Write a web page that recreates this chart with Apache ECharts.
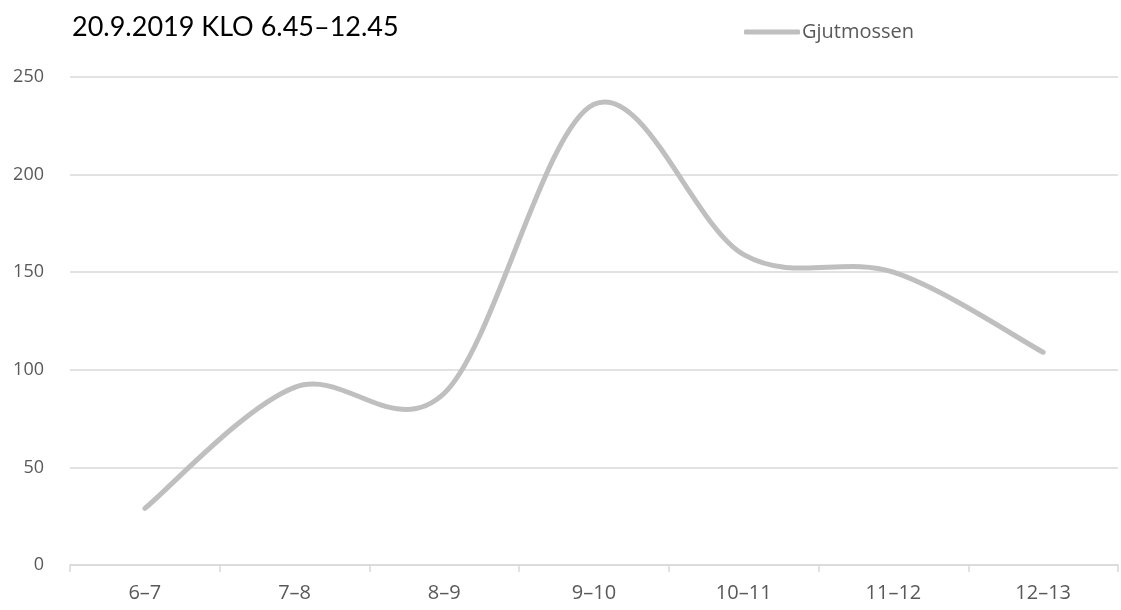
<!DOCTYPE html>
<html>
<head>
<meta charset="utf-8">
<script src="https://cdn.jsdelivr.net/npm/echarts@6/dist/echarts.min.js"></script>
<style>
html,body{margin:0;padding:0;background:#fff;}
#chart{width:1121px;height:610px;}
</style>
</head>
<body>
<div id="chart"></div>
<script>
var titleText = '20.9.2019 KLO 6.45–12.45';
var seriesName = 'Gjutmossen';
var categories = ['6–7', '7–8', '8–9', '9–10', '10–11', '11–12', '12–13'];
var values = [29, 91, 88, 236, 159, 150, 109];
var yTicks = [0, 50, 100, 150, 200, 250];

var LINE_COLOR = '#bfbfbf';

// Smooth (Catmull-Rom style, as in spreadsheet charts) path through the data,
// positioned via the chart's own coordinate system.
function renderCurve(params, api) {
  if (params.dataIndex !== 0) return null;
  var pts = values.map(function (v, i) { return api.coord([i, v]); });
  var n = pts.length;
  var path = 'M' + pts[0][0] + ' ' + pts[0][1];
  for (var i = 0; i < n - 1; i++) {
    var p0 = pts[Math.max(i - 1, 0)];
    var p1 = pts[i];
    var p2 = pts[i + 1];
    var p3 = pts[Math.min(i + 2, n - 1)];
    var c1x = p1[0] + (p2[0] - p0[0]) / 6;
    var c1y = p1[1] + (p2[1] - p0[1]) / 6;
    var c2x = p2[0] - (p3[0] - p1[0]) / 6;
    var c2y = p2[1] - (p3[1] - p1[1]) / 6;
    path += ' C' + c1x + ' ' + c1y + ' ' + c2x + ' ' + c2y + ' ' + p2[0] + ' ' + p2[1];
  }
  return {
    type: 'path',
    shape: {pathData: path},
    style: {fill: 'none', stroke: LINE_COLOR, lineWidth: 5, lineCap: 'round', lineJoin: 'round'}
  };
}

var chart = echarts.init(document.getElementById('chart'));
chart.setOption({
  animation: false,
  backgroundColor: '#ffffff',
  title: {
    text: titleText,
    left: 67,
    top: 9,
    textStyle: {fontFamily: 'Lato', fontWeight: 'normal', fontSize: 27, color: '#000000'}
  },
  legend: {
    data: [{name: seriesName, icon: 'roundRect', itemStyle: {color: LINE_COLOR}}],
    left: 739,
    top: 17,
    itemWidth: 56,
    itemHeight: 5,
    textStyle: {fontFamily: 'Open Sans', fontSize: 20, color: '#595959', padding: [0, 0, 0, -3]}
  },
  grid: {left: 70, right: 3, top: 77, bottom: 45, containLabel: false},
  xAxis: {
    type: 'category',
    data: categories,
    boundaryGap: true,
    axisLine: {lineStyle: {color: '#d9d9d9', width: 1.5}},
    axisTick: {show: true, length: 7, lineStyle: {color: '#d9d9d9', width: 1.5}},
    axisLabel: {fontFamily: 'Open Sans', fontSize: 20, color: '#595959', margin: 18}
  },
  yAxis: {
    type: 'value',
    min: yTicks[0],
    max: yTicks[yTicks.length - 1],
    interval: 50,
    axisLine: {show: false},
    axisTick: {show: false},
    splitLine: {lineStyle: {color: '#d9d9d9', width: 1.5}},
    axisLabel: {fontFamily: 'Open Sans', fontSize: 18, color: '#595959', margin: 26}
  },
  series: [{
    name: seriesName,
    type: 'custom',
    data: values.map(function (v, i) { return [i, v]; }),
    encode: {x: 0, y: 1},
    itemStyle: {color: LINE_COLOR},
    renderItem: renderCurve
  }]
});
</script>
</body>
</html>
